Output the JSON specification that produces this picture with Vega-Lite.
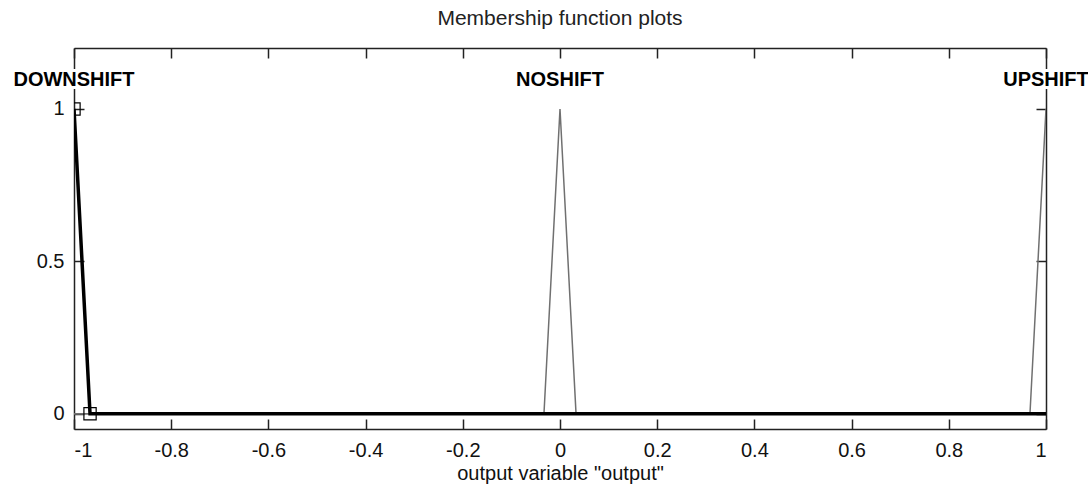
{
  "$schema": "https://vega.github.io/schema/vega-lite/v6.json",
  "width": 972,
  "height": 381,
  "autosize": {"type": "none"},
  "padding": {"left": 74, "top": 48, "right": 42, "bottom": 59},
  "background": "white",
  "title": {
    "text": "Membership function plots",
    "fontSize": 21,
    "fontWeight": "normal",
    "font": "Liberation Sans",
    "color": "#222",
    "offset": 18
  },
  "config": {
    "view": {"stroke": null},
    "axis": {
      "labelFont": "Liberation Sans",
      "labelFontSize": 20,
      "labelColor": "#111",
      "titleFont": "Liberation Sans",
      "titleFontSize": 20,
      "titleFontWeight": "normal",
      "titleColor": "#111",
      "domainColor": "#222",
      "domainWidth": 1.5,
      "tickColor": "#222",
      "tickWidth": 1.5,
      "tickSize": -10,
      "grid": false
    }
  },
  "datasets": {
    "mf": [
      {"mf": "DOWNSHIFT", "x": -1, "y": 1},
      {"mf": "DOWNSHIFT", "x": -0.967, "y": 0},
      {"mf": "DOWNSHIFT", "x": 1, "y": 0},
      {"mf": "NOSHIFT", "x": -1, "y": 0},
      {"mf": "NOSHIFT", "x": -0.033, "y": 0},
      {"mf": "NOSHIFT", "x": 0, "y": 1},
      {"mf": "NOSHIFT", "x": 0.033, "y": 0},
      {"mf": "NOSHIFT", "x": 1, "y": 0},
      {"mf": "UPSHIFT", "x": -1, "y": 0},
      {"mf": "UPSHIFT", "x": 0.967, "y": 0},
      {"mf": "UPSHIFT", "x": 1, "y": 1}
    ],
    "names": [
      {"mf": "DOWNSHIFT", "x": -1, "y": 1.1},
      {"mf": "NOSHIFT", "x": 0, "y": 1.1},
      {"mf": "UPSHIFT", "x": 1, "y": 1.1}
    ],
    "handles": [
      {"x": -1, "y": 1},
      {"x": -0.967, "y": 0}
    ]
  },
  "layer": [
    {
      "data": {"name": "mf"},
      "mark": {"type": "line", "clip": true, "color": "#707070", "strokeWidth": 1.5},
      "encoding": {
        "x": {
          "field": "x", "type": "quantitative",
          "scale": {"domain": [-1, 1], "nice": false, "zero": false},
          "axis": {
            "orient": "bottom",
            "values": [-1, -0.8, -0.6, -0.4, -0.2, 0, 0.2, 0.4, 0.6, 0.8, 1],
            "labelExpr": "toString(datum.value)",
            "labelPadding": 21,
            "title": "output variable \"output\"",
            "titlePadding": 3
          }
        },
        "y": {
          "field": "y", "type": "quantitative",
          "scale": {"domain": [-0.05, 1.2], "nice": false, "zero": false},
          "axis": {
            "orient": "left",
            "values": [0, 0.5, 1],
            "labelExpr": "toString(datum.value)",
            "labelPadding": 20,
            "title": null
          }
        },
        "detail": {"field": "mf"}
      }
    },
    {
      "data": {"name": "mf"},
      "transform": [{"filter": "datum.mf == 'DOWNSHIFT'"}],
      "mark": {"type": "line", "clip": true, "color": "#000", "strokeWidth": 3.5},
      "encoding": {
        "x": {
          "field": "x", "type": "quantitative",
          "axis": {
            "orient": "top",
            "values": [-1, -0.8, -0.6, -0.4, -0.2, 0, 0.2, 0.4, 0.6, 0.8, 1],
            "labels": false,
            "title": null
          }
        },
        "y": {
          "field": "y", "type": "quantitative",
          "axis": {
            "orient": "right",
            "values": [0, 0.5, 1],
            "labels": false,
            "title": null
          }
        }
      }
    },
    {
      "data": {"name": "handles"},
      "mark": {"type": "point", "shape": "square", "filled": false, "clip": true, "size": 150, "color": "#000", "strokeWidth": 1.2, "opacity": 1},
      "encoding": {
        "x": {"field": "x", "type": "quantitative", "axis": null},
        "y": {"field": "y", "type": "quantitative", "axis": null}
      }
    },
    {
      "data": {"name": "names"},
      "mark": {"type": "text", "font": "Liberation Sans", "fontWeight": "bold", "fontSize": 20, "baseline": "middle", "align": "center", "dy": 2, "stroke": "white", "strokeWidth": 6, "fill": "white"},
      "encoding": {
        "x": {"field": "x", "type": "quantitative", "axis": null},
        "y": {"field": "y", "type": "quantitative", "axis": null},
        "text": {"field": "mf"}
      }
    },
    {
      "data": {"name": "names"},
      "mark": {"type": "text", "font": "Liberation Sans", "fontWeight": "bold", "fontSize": 20, "baseline": "middle", "align": "center", "dy": 2, "color": "#000"},
      "encoding": {
        "x": {"field": "x", "type": "quantitative", "axis": null},
        "y": {"field": "y", "type": "quantitative", "axis": null},
        "text": {"field": "mf"}
      }
    }
  ],
  "resolve": {"axis": {"x": "independent", "y": "independent"}}
}
